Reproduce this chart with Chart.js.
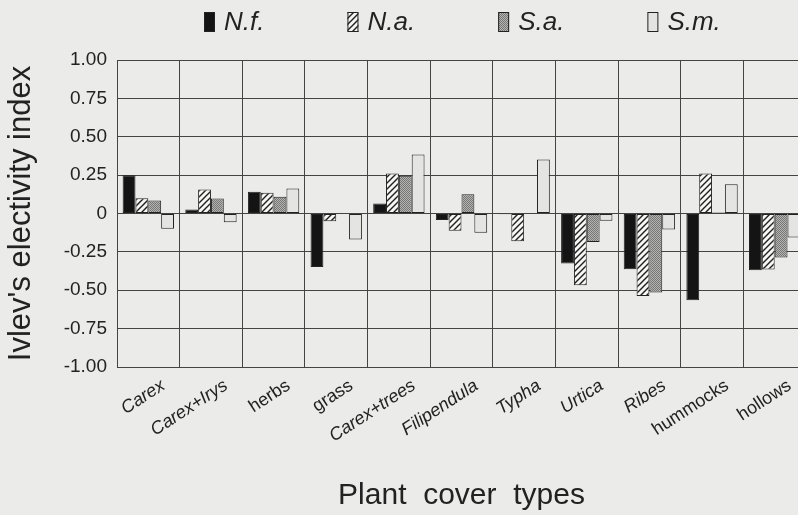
<!DOCTYPE html>
<html>
<head>
<meta charset="utf-8">
<script src="https://cdn.jsdelivr.net/npm/chart.js@4/dist/chart.umd.min.js"></script>
<style>
  html, body { margin: 0; padding: 0; background: #ebebe9; overflow: hidden; }
  #wrap { width: 798px; height: 515px; overflow: hidden; }
</style>
</head>
<body>
<div id="wrap"><canvas id="goo" width="806" height="515"></canvas></div>
<script>
// plant cover types (x axis)
const categories = ['Carex', 'Carex+Irys', 'herbs', 'grass', 'Carex+trees', 'Filipendula',
    'Typha', 'Urtica', 'Ribes', 'hummocks', 'hollows'];
// which of them are printed in italics (latin names)
const italicNames = ['Carex', 'Carex+Irys', 'Carex+trees', 'Filipendula', 'Typha', 'Urtica', 'Ribes'];

const seriesNames = ['N.f.', 'N.a.', 'S.a.', 'S.m.'];
const nfValues = [0.25, 0.026, 0.141, -0.348, 0.065, -0.043, -0.005, -0.326, -0.363, -0.565, -0.37];
const naValues = [0.10, 0.157, 0.135, -0.05, 0.26, -0.113, -0.18, -0.467, -0.537, 0.26, -0.365];
const saValues = [0.085, 0.098, 0.109, 0, 0.246, 0.126, 0, -0.185, -0.515, 0.006, -0.287];
const smValues = [-0.10, -0.057, 0.163, -0.17, 0.385, -0.126, 0.352, -0.048, -0.104, 0.191, -0.157];

const yTicks = [-1, -0.75, -0.5, -0.25, 0, 0.25, 0.5, 0.75, 1];

const FONT = '"Liberation Sans", Arial, Helvetica, sans-serif';
const INK = '#222';

function hatch() {
    let c = document.createElement('canvas');
    c.width = 6; c.height = 6;
    let g = c.getContext('2d');
    g.fillStyle = '#f6f6f4';
    g.fillRect(0, 0, 6, 6);
    g.strokeStyle = '#1e1e1e';
    g.lineWidth = 1.4;
    g.beginPath();
    g.moveTo(0, 6); g.lineTo(6, 0);
    g.moveTo(-3, 3); g.lineTo(3, -3);
    g.moveTo(3, 9); g.lineTo(9, 3);
    g.stroke();
    return g.createPattern(c, 'repeat');
}

function stipple() {
    let c = document.createElement('canvas');
    c.width = 2; c.height = 2;
    let g = c.getContext('2d');
    g.fillStyle = '#b4b4b2';
    g.fillRect(0, 0, 2, 2);
    g.fillStyle = '#767676';
    g.fillRect(0, 0, 1, 1);
    g.fillRect(1, 1, 1, 1);
    return g.createPattern(c, 'repeat');
}

const fills = ['#141414', hatch(), stipple(), '#e4e4e2'];
const allValues = [nfValues, naValues, saValues, smValues];

// legend drawn by hand so the items sit where the original has them
const topLegend = {
    id: 'topLegend',
    afterDraw(chart) {
        let c = chart.ctx;
        c.save();
        c.font = 'italic 26px ' + FONT;
        c.textBaseline = 'middle';
        let x = 204;
        chart.data.datasets.forEach(function(ds) {
            c.fillStyle = ds.backgroundColor;
            c.fillRect(x, 12, 11, 20);
            c.strokeStyle = INK;
            c.lineWidth = 1;
            c.strokeRect(x + 0.5, 12.5, 10, 19);
            c.fillStyle = INK;
            c.fillText(ds.label, x + 20, 23);
            x = x + 20 + c.measureText(ds.label).width + 83;
        });
        c.restore();
    }
};

var ctx = document.getElementById('goo').getContext('2d');
var goo = new Chart(ctx, {
    type: 'bar',
    data: {
        labels: categories,
        datasets: seriesNames.map(function(name, i) {
            return {
                label: name,
                data: allValues[i],
                backgroundColor: fills[i],
                borderColor: INK,
                borderWidth: 1,
                borderSkipped: false,
                categoryPercentage: 0.82,
                barPercentage: 1.0
            };
        })
    },
    options: {
        responsive: false,
        animation: false,
        layout: { padding: { top: 60, left: 0, right: 0, bottom: 0 } },
        plugins: {
            legend: { display: false },
            tooltip: { enabled: false }
        },
        scales: {
            x: {
                grid: { color: '#444', lineWidth: 1, drawTicks: false, offset: true },
                border: { color: '#444' },
                ticks: {
                    autoSkip: false,
                    minRotation: 33,
                    maxRotation: 33,
                    labelOffset: 15,
                    padding: 8,
                    color: INK,
                    font: function(c) {
                        let name = categories[c.index];
                        return { family: FONT, size: 18, style: italicNames.includes(name) ? 'italic' : 'normal' };
                    }
                },
                title: {
                    display: true,
                    text: 'Plant  cover  types',
                    color: INK,
                    font: { family: FONT, size: 30 },
                    padding: { top: 0, bottom: 1 }
                },
                afterFit: function(s) { s.height = 148; }
            },
            y: {
                min: -1,
                max: 1,
                afterBuildTicks: function(s) { s.ticks = yTicks.map(v => ({ value: v })); },
                grid: { color: '#444', lineWidth: 1, drawTicks: false },
                border: { color: '#444' },
                ticks: {
                    padding: 10,
                    color: INK,
                    font: { family: FONT, size: 19 },
                    callback: function(v) { return v === 0 ? '0' : v.toFixed(2); }
                },
                title: {
                    display: true,
                    text: "Ivlev's electivity index",
                    color: INK,
                    font: { family: FONT, size: 31 },
                    padding: { top: 3, bottom: 0 }
                },
                afterFit: function(s) { s.width = 117; }
            }
        }
    },
    plugins: [topLegend]
});
</script>
</body>
</html>
